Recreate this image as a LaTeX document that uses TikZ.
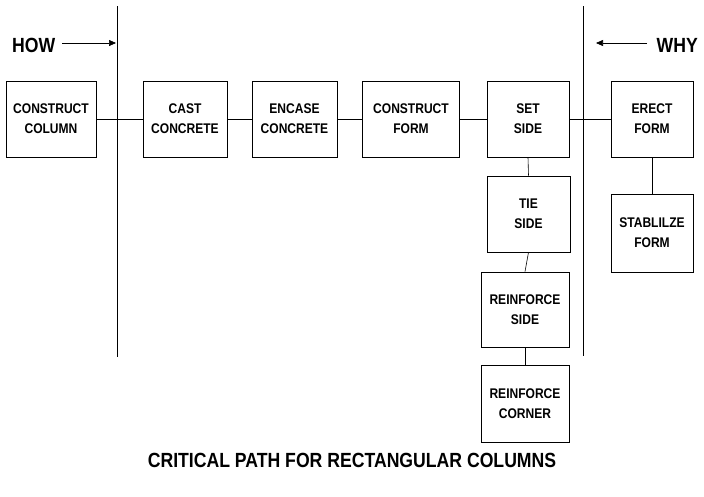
\documentclass[tikz,border=0pt]{standalone}
\usepackage{fontspec}
\newfontfamily\cond[FakeStretch=0.86]{Liberation Sans}
\usetikzlibrary{arrows.meta}
\tikzset{
  box/.style={draw, line width=0.7pt, minimum width=#1, minimum height=76pt, inner sep=0pt, align=center,
    font=\cond\bfseries\fontsize{14}{20}\selectfont},
  box/.default=84pt,
  conn/.style={line width=0.6pt},
  divider/.style={line width=1pt},
  lbl/.style={font=\cond\bfseries\fontsize{20.5}{22}\selectfont, inner sep=0pt},
  arr/.style={line width=0.6pt, -{Triangle[length=7pt,width=6pt]}}
}
\begin{document}
\begin{tikzpicture}[x=1pt,y=-1pt]
\useasboundingbox (0,0) rectangle (704,496);
% dividers
\coordinate (l1) at (117,6); \coordinate (l2) at (117,357);
\coordinate (r1) at (583,6); \coordinate (r2) at (583,356);
\draw[divider] (l1) -- (l2);
\draw[divider] (r1) -- (r2);
% HOW / WHY
\node[lbl, anchor=west] (how) at (12,45) {HOW};
\coordinate (howend) at (116,43);
\draw[arr] (62,43) -- (howend);
\node[lbl, anchor=east] (why) at (698,45) {WHY};
\coordinate (whyend) at (596,43);
\draw[arr] (647,43) -- (whyend);
% boxes
\node[box=90pt] (cc) at (51,119) {CONSTRUCT\\COLUMN};
\node[box=84pt] (cast) at (185,119) {CAST\\CONCRETE};
\node[box=85pt] (enc) at (294.5,119) {ENCASE\\CONCRETE};
\node[box=97pt] (cf) at (411,119) {CONSTRUCT\\FORM};
\node[box=82pt] (ss) at (528,119) {SET\\SIDE};
\node[box=82pt] (ef) at (652,119) {ERECT\\FORM};
\node[box=83pt] (ts) at (528.5,214) {TIE\\SIDE};
\node[box=88pt, minimum height=75pt] (rs) at (525,309.5) {REINFORCE\\SIDE};
\node[box=88pt, minimum height=77pt] (rc) at (525,403.5) {REINFORCE\\CORNER};
\node[box=82pt, minimum height=78pt] (sf) at (652,233) {STABLILZE\\FORM};
% connectors
\draw[conn] (cc) -- (cast);
\draw[conn] (cast) -- (enc);
\draw[conn] (enc) -- (cf);
\draw[conn] (cf) -- (ss);
\draw[conn] (ss) -- (ef);
\draw[conn] (ss.south) -- (ts.north);
\draw[conn] (ts.south) -- (rs.north);
\draw[conn] (rs.south) -- (rc.north);
\draw[conn] (ef.south) -- (sf.north);
% title
\node[font=\cond\bfseries\fontsize{20.5}{22}\selectfont, inner sep=0pt] (title) at (352,460) {CRITICAL PATH FOR RECTANGULAR COLUMNS};
\end{tikzpicture}
\end{document}
